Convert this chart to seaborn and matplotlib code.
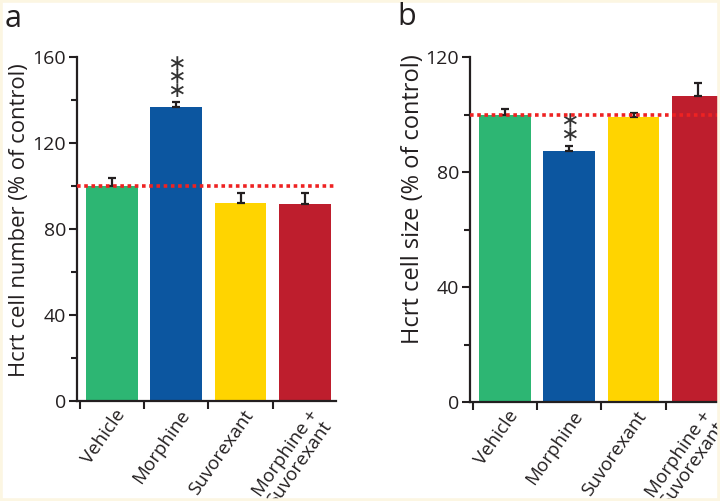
import numpy as np
import matplotlib
matplotlib.use('Agg')
import matplotlib.pyplot as plt
import matplotlib.transforms as mtransforms
import seaborn as sns
from matplotlib.ticker import MultipleLocator, FixedLocator
from matplotlib.patches import Rectangle

# datos
grupos = ['Vehicle', 'Morphine', 'Suvorexant', 'Morphine +\nSuvorexant']
colores = ['#2db673', '#0c56a0', '#ffd400', '#be1e2d']
num_celulas = [100, 136.8, 92.2, 91.8]
num_celulas_sem = [3.6, 2.4, 4.6, 5.0]
tam_celulas = [100, 87.2, 99.2, 106.6]
tam_celulas_sem = [2.0, 2.0, 1.4, 4.4]
estrellas_a = ['', '***', '', '']
estrellas_b = ['', '**', '', '']

sns.set_style("ticks")
plt.rcParams['font.family'] = ['Open Sans', 'DejaVu Sans']
txt = '#231f20'


def panel(ax, valores, sem, estrellas, ymax, ylabel, ylabel_size, ylabel_y):
    df_x = np.arange(len(grupos))
    sns.barplot(x=grupos, y=valores, hue=grupos, palette=colores, legend=False,
                width=0.8, saturation=1, ax=ax, edgecolor='none')
    ax.errorbar(df_x, valores, yerr=[np.zeros(len(valores)), sem], fmt='none',
                ecolor=txt, elinewidth=1.6, capsize=2.8, capthick=1.6, zorder=3)
    ax.axhline(100, color='#ee2222', lw=2.6, linestyle=(0, (1, 1)), zorder=4)

    # asteriscos sobre la barra
    for i, s in enumerate(estrellas):
        for k in range(len(s)):
            ax.annotate('\u2217', (i, valores[i] + sem[i]), xytext=(0, 13 + 13.5 * k),
                        textcoords='offset pixels', ha='center', va='center_baseline',
                        fontsize=16, color='#333333', family='DejaVu Sans')

    ax.set_xlim(-0.54, 3.48)
    ax.set_ylim(0, ymax)
    ax.yaxis.set_major_locator(MultipleLocator(40))
    ax.yaxis.set_minor_locator(MultipleLocator(20))
    ax.xaxis.set_minor_locator(FixedLocator(np.arange(-0.5, 4, 1)))
    ax.tick_params(axis='x', which='major', length=0, pad=4)
    ax.tick_params(axis='x', which='minor', length=6, width=1.5, color=txt)
    ax.tick_params(axis='y', which='major', length=6, width=1.5, color=txt,
                   labelsize=14, labelcolor=txt, pad=2)
    ax.tick_params(axis='y', which='minor', length=4, width=1.5, color=txt)
    ax.set_xticks(df_x)
    ax.set_xticklabels(grupos, rotation=55, ha='right', rotation_mode='anchor',
                       fontsize=13.5, color=txt, multialignment='center',
                       linespacing=0.95)
    desplaza = mtransforms.ScaledTranslation(2 / 100, 0, ax.figure.dpi_scale_trans)
    for lab in ax.get_xticklabels():
        lab.set_transform(lab.get_transform() + desplaza)
    for sp in ['top', 'right']:
        ax.spines[sp].set_visible(False)
    for sp in ['left', 'bottom']:
        ax.spines[sp].set_linewidth(1.6)
        ax.spines[sp].set_color(txt)
    ax.set_ylabel(ylabel, fontsize=ylabel_size, color=txt)
    ax.yaxis.set_label_coords(-0.222, ylabel_y)
    ax.yaxis.label.set_va('center')
    ax.set_xlabel('')


fig = plt.figure(figsize=(7.2, 5.01), dpi=100)
ax1 = fig.add_axes([77 / 720, 100 / 501, 259 / 720, 344 / 501])
ax2 = fig.add_axes([470 / 720, 99 / 501, 259 / 720, 345 / 501])

panel(ax1, num_celulas, num_celulas_sem, estrellas_a, 160,
      'Hcrt cell number (% of control)', 15.8, 0.526)
panel(ax2, tam_celulas, tam_celulas_sem, estrellas_b, 120,
      'Hcrt cell size (% of control)', 17, 0.588)

fig.text(5 / 720, 1 - 19 / 501, 'a', fontsize=22, color=txt, va='center', ha='left')
fig.text(397 / 720, 1 - 17 / 501, 'b', fontsize=22, color=txt, va='center', ha='left')

fig.patches.append(Rectangle((0, 0), 1, 1, transform=fig.transFigure, fill=False,
                             edgecolor='#fcf6e2', linewidth=4))

fig.savefig('out.png', dpi=100, facecolor='white')
